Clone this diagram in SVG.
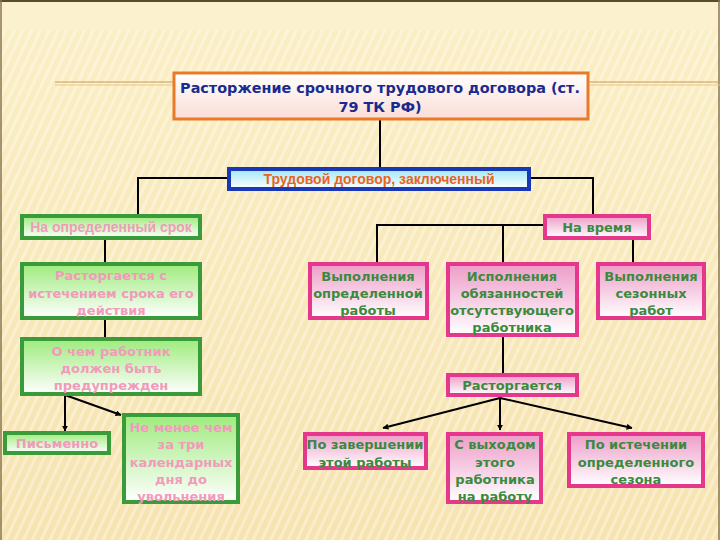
<svg xmlns="http://www.w3.org/2000/svg" width="720" height="540" viewBox="0 0 720 540">
<defs>
<linearGradient id="bg" x1="0" y1="0" x2="0" y2="1">
<stop offset="0" stop-color="#FBEFC6"/><stop offset="1" stop-color="#F6E3B0"/>
</linearGradient>
<pattern id="stripes" width="8" height="8" patternUnits="userSpaceOnUse" patternTransform="rotate(25)">
<rect width="8" height="8" fill="none"/><rect width="3" height="8" fill="#FFFFFF" opacity="0.35"/>
</pattern>
<linearGradient id="gGreen" x1="0" y1="0" x2="0" y2="1">
<stop offset="0" stop-color="#9EEB7C"/><stop offset="1" stop-color="#FFFFFF"/>
</linearGradient>
<linearGradient id="gPink" x1="0" y1="0" x2="0" y2="1">
<stop offset="0" stop-color="#EE9CC8"/><stop offset="1" stop-color="#FFFFFF"/>
</linearGradient>
<linearGradient id="gCyan" x1="0" y1="0" x2="0" y2="1">
<stop offset="0" stop-color="#9EE6F6"/><stop offset="1" stop-color="#FFFFFF"/>
</linearGradient>
<linearGradient id="gTitle" x1="0" y1="0" x2="0" y2="1">
<stop offset="0" stop-color="#FFFFFF"/><stop offset="1" stop-color="#FBDDD6"/>
</linearGradient>
<marker id="arr" viewBox="0 0 10 10" refX="9" refY="5" markerWidth="6" markerHeight="6" orient="auto" markerUnits="userSpaceOnUse">
<path d="M0,0 L10,5 L0,10 z" fill="#000"/>
</marker>
<style>
.gb{fill:url(#gGreen);stroke:#3A9B3A;stroke-width:4}
.pb{fill:url(#gPink);stroke:#E5388C;stroke-width:4}
.gt{font-family:"DejaVu Sans",sans-serif;font-weight:bold;font-size:13px;fill:#3A8A3E;text-anchor:middle}
.pt{font-family:"DejaVu Sans",sans-serif;font-weight:bold;font-size:13px;fill:#F29ABC;text-anchor:middle}
.tt{font-family:"DejaVu Sans",sans-serif;font-weight:bold;font-size:14.4px;fill:#1A2A8E;text-anchor:middle}
.ln{fill:none;stroke:#000;stroke-width:2}
</style>
</defs>
<rect width="720" height="540" fill="url(#bg)"/>
<rect y="30" width="720" height="510" fill="url(#stripes)"/>
<rect width="720" height="30" fill="#FCF1CF"/>
<line x1="0" y1="1" x2="720" y2="1" stroke="#5A4A30" stroke-width="2"/>
<line x1="1" y1="0" x2="1" y2="540" stroke="#8A7650" stroke-width="1.5"/>
<line x1="719" y1="0" x2="719" y2="540" stroke="#8A7650" stroke-width="1.5"/>
<line x1="55" y1="82" x2="720" y2="82" stroke="#C89A5A" stroke-width="1"/>
<line x1="55" y1="85" x2="720" y2="85" stroke="#E8C890" stroke-width="1"/>

<g id="connectors">
<line class="ln" x1="380" y1="120" x2="380" y2="168"/>
<polyline class="ln" points="228,178 138,178 138,214"/>
<polyline class="ln" points="530,178 593,178 593,215"/>
<polyline class="ln" points="545,225 377,225 377,263"/>
<line class="ln" x1="503" y1="225" x2="503" y2="263"/>
<line class="ln" x1="633" y1="238" x2="633" y2="263"/>
<line class="ln" x1="105" y1="239" x2="105" y2="263"/>
<line class="ln" x1="105" y1="319" x2="105" y2="338"/>
<line class="ln" x1="503" y1="336" x2="503" y2="374"/>
<line class="ln" x1="65" y1="395" x2="65" y2="431" marker-end="url(#arr)"/>
<line class="ln" x1="65" y1="395" x2="121" y2="415" marker-end="url(#arr)"/>
<line class="ln" x1="500" y1="398" x2="383" y2="428" marker-end="url(#arr)"/>
<line class="ln" x1="500" y1="398" x2="500" y2="430" marker-end="url(#arr)"/>
<line class="ln" x1="500" y1="398" x2="632" y2="428" marker-end="url(#arr)"/>
</g>

<g id="title">
<rect x="174" y="73" width="414" height="46" fill="url(#gTitle)" stroke="#E87A2A" stroke-width="3"/>
<text class="tt" x="380" y="93">Расторжение срочного трудового договора (ст.</text>
<text class="tt" x="380" y="112">79 ТК РФ)</text>
</g>

<g id="contract">
<rect x="229" y="169" width="300" height="20" fill="url(#gCyan)" stroke="#1838B8" stroke-width="4"/>
<text x="379" y="184" font-family="Liberation Sans, sans-serif" font-weight="bold" font-size="14" fill="#E8641E" text-anchor="middle">Трудовой договор, заключенный</text>
</g>

<g id="fixed-term">
<rect x="22" y="216" width="178" height="22" class="gb"/>
<text x="111" y="232" class="pt" style="font-family:'Liberation Sans',sans-serif;font-size:14px">На определенный срок</text>
</g>

<g id="for-time">
<rect x="545" y="216" width="104" height="22" class="pb"/>
<text x="597" y="232" class="gt">На время</text>
</g>

<g id="expiry">
<rect x="22" y="264" width="178" height="54" class="gb"/>
<text class="pt" x="111" y="280">Расторгается с</text>
<text class="pt" x="111" y="298">истечением срока его</text>
<text class="pt" x="111" y="315">действия</text>
</g>

<g id="warn">
<rect x="22" y="339" width="178" height="55" class="gb"/>
<text class="pt" x="111" y="356">О чем работник</text>
<text class="pt" x="111" y="373">должен быть</text>
<text class="pt" x="111" y="390">предупрежден</text>
</g>

<g id="written">
<rect x="5" y="433" width="104" height="20" class="gb"/>
<text class="pt" x="57" y="448">Письменно</text>
</g>

<g id="three-days">
<rect x="124" y="415" width="114" height="87" class="gb"/>
<text class="pt" x="181" y="432">Не менее чем</text>
<text class="pt" x="181" y="449">за три</text>
<text class="pt" x="181" y="467">календарных</text>
<text class="pt" x="181" y="484">дня до</text>
<text class="pt" x="181" y="501">увольнения</text>
</g>

<g id="work">
<rect x="310" y="264" width="117" height="54" class="pb"/>
<text class="gt" x="368" y="281">Выполнения</text>
<text class="gt" x="368" y="298">определенной</text>
<text class="gt" x="368" y="315">работы</text>
</g>

<g id="absent">
<rect x="448" y="264" width="129" height="71" class="pb"/>
<text class="gt" x="512" y="281">Исполнения</text>
<text class="gt" x="512" y="298">обязанностей</text>
<text class="gt" x="512" y="315">отсутствующего</text>
<text class="gt" x="512" y="332">работника</text>
</g>

<g id="seasonal">
<rect x="598" y="264" width="106" height="54" class="pb"/>
<text class="gt" x="651" y="281">Выполнения</text>
<text class="gt" x="651" y="298">сезонных</text>
<text class="gt" x="651" y="315">работ</text>
</g>

<g id="terminated">
<rect x="448" y="375" width="129" height="20" class="pb"/>
<text class="gt" x="512" y="390">Расторгается</text>
</g>

<g id="on-completion">
<rect x="305" y="434" width="121" height="34" class="pb"/>
<text class="gt" x="365" y="449">По завершении</text>
<text class="gt" x="365" y="467">этой работы</text>
</g>

<g id="on-return">
<rect x="448" y="434" width="93" height="68" class="pb"/>
<text class="gt" x="495" y="449">С выходом</text>
<text class="gt" x="495" y="467">этого</text>
<text class="gt" x="495" y="484">работника</text>
<text class="gt" x="495" y="501">на работу</text>
</g>

<g id="season-end">
<rect x="569" y="434" width="134" height="52" class="pb"/>
<text class="gt" x="636" y="449">По истечении</text>
<text class="gt" x="636" y="467">определенного</text>
<text class="gt" x="636" y="484">сезона</text>
</g>
</svg>
